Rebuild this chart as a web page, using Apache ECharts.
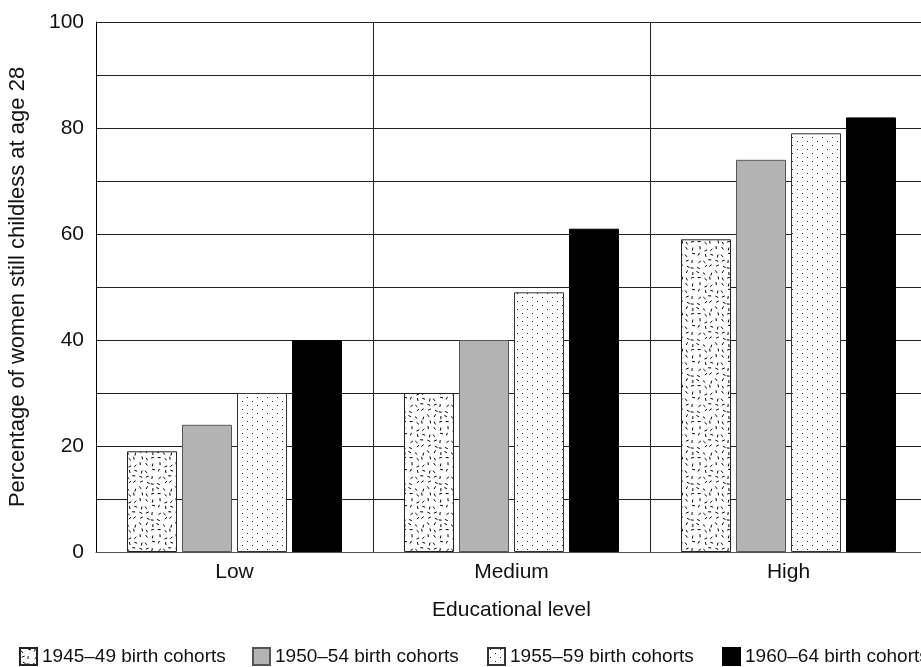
<!DOCTYPE html>
<html>
<head>
<meta charset="utf-8">
<script src="https://cdn.jsdelivr.net/npm/echarts@6/dist/echarts.min.js"></script>
<style>
html,body{margin:0;padding:0;background:#fff;}
#chart{width:921px;height:667px;}
</style>
</head>
<body>
<div id="chart"></div>
<script>
const categories = ['Low', 'Medium', 'High'];
const seriesNames = ['1945–49 birth cohorts', '1950–54 birth cohorts', '1955–59 birth cohorts', '1960–64 birth cohorts'];
const cohort1945 = [19, 30, 59];
const cohort1950 = [24, 40, 74];
const cohort1955 = [30, 49, 79];
const cohort1960 = [40, 61, 82];
const yTicks = [0, 20, 40, 60, 80, 100];

// textures (styling only)
function dashPattern() {
  const N = 6, cell = 6, W = N * cell;
  const c = document.createElement('canvas');
  c.width = W; c.height = W;
  const ctx = c.getContext('2d');
  ctx.fillStyle = '#fff'; ctx.fillRect(0, 0, W, W);
  ctx.strokeStyle = '#000'; ctx.lineWidth = 1; ctx.lineCap = 'butt';
  let s = 987654;
  function rnd() { s = (s * 1103515245 + 12345) % 2147483648; return s / 2147483648; }
  for (let i = 0; i < N; i++) {
    for (let j = 0; j < N; j++) {
      const x = i * cell + 1.5 + rnd() * 3, y = j * cell + 1.5 + rnd() * 3, a = rnd() * Math.PI;
      const dx = Math.cos(a) * 1.5, dy = Math.sin(a) * 1.5;
      ctx.beginPath(); ctx.moveTo(x - dx, y - dy); ctx.lineTo(x + dx, y + dy); ctx.stroke();
    }
  }
  return c;
}
function dotPattern() {
  const c = document.createElement('canvas');
  c.width = 10; c.height = 8;
  const ctx = c.getContext('2d');
  ctx.fillStyle = '#fff'; ctx.fillRect(0, 0, 10, 8);
  ctx.fillStyle = '#222';
  ctx.fillRect(2, 1, 1, 1);
  ctx.fillRect(7, 5, 1, 1);
  return c;
}

const fills = [
  { image: dashPattern(), repeat: 'repeat' },
  '#b3b3b3',
  { image: dotPattern(), repeat: 'repeat' },
  '#000000'
];
const borders = ['#222', '#555', '#333', '#000'];
const values = [cohort1945, cohort1950, cohort1955, cohort1960];
const legendLeft = [14, 247, 482, 717];

const chart = echarts.init(document.getElementById('chart'));
const font = 'Liberation Sans, Arial, Helvetica, sans-serif';
chart.setOption({
  animation: false,
  backgroundColor: '#fff',
  grid: { left: 96, top: 22, width: 831, height: 530, outerBoundsMode: 'none', containLabel: false },
  legend: seriesNames.map((n, i) => ({
    left: legendLeft[i], top: 642,
    itemWidth: 17, itemHeight: 17, itemGap: 0,
    icon: 'rect',
    textStyle: { fontSize: 19, color: '#111', fontFamily: font },
    data: [n]
  })),
  xAxis: {
    type: 'category',
    data: categories,
    name: 'Educational level',
    nameLocation: 'middle',
    nameGap: 48,
    nameTextStyle: { fontSize: 21, color: '#111', fontFamily: font },
    axisLine: { lineStyle: { color: '#555', width: 1 } },
    axisTick: { show: false },
    axisLabel: { fontSize: 21, color: '#111', fontFamily: font, margin: 10 },
    splitLine: { show: true, lineStyle: { color: '#222', width: 1 } }
  },
  yAxis: {
    type: 'value',
    min: 0, max: 100, interval: 10,
    name: 'Percentage of women still childless at age 28',
    nameLocation: 'middle',
    nameGap: 67,
    nameTextStyle: { fontSize: 22, color: '#111', fontFamily: font },
    axisLine: { show: true, lineStyle: { color: '#000', width: 1 } },
    axisTick: { show: false },
    axisLabel: {
      fontSize: 21, color: '#111', fontFamily: font, margin: 12,
      formatter: v => yTicks.indexOf(v) >= 0 ? String(v) : ''
    },
    splitLine: { show: true, lineStyle: { color: '#222', width: 1 } }
  },
  series: seriesNames.map((n, i) => ({
    name: n,
    type: 'bar',
    data: values[i],
    barWidth: 50,
    barGap: '10%',
    itemStyle: { color: fills[i], borderColor: borders[i], borderWidth: 1 }
  }))
});
</script>
</body>
</html>
